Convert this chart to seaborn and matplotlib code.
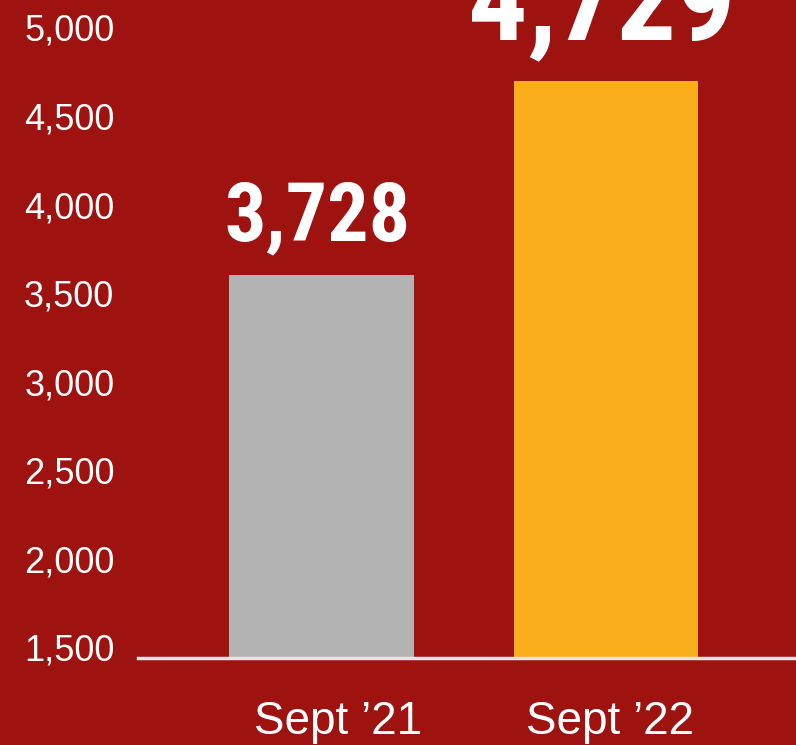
import matplotlib
matplotlib.use("Agg")
import matplotlib.pyplot as plt
import matplotlib.transforms as mtransforms
import seaborn as sns
import pandas as pd

# data
months = ["Sept \u201921", "Sept \u201922"]
bar_heights = [3600, 4700]
value_labels = ["3,728", "4,729"]
y_ticks = [1500, 2000, 2500, 3000, 3500, 4000, 4500, 5000]

bg = "#9E1210"
bar_colors = ["#B3B3B3", "#FBAE1B"]

sns.set_theme(style="white")
plt.rcParams["font.family"] = ["Liberation Sans", "DejaVu Sans"]

df = pd.DataFrame({"month": months, "value": bar_heights})

fig = plt.figure(figsize=(7.96, 7.45), dpi=100)
fig.patch.set_facecolor(bg)
ax = fig.add_axes([138 / 796, 87 / 745, 1 - 138 / 796, 658 / 745])
ax.set_facecolor(bg)

sns.barplot(
    data=df,
    x="month",
    y="value",
    hue="month",
    palette=bar_colors,
    saturation=1,
    width=0.65,
    linewidth=0,
    legend=False,
    ax=ax
)

ax.set_ylim(1440, 5155)
ax.set_xlim(-0.645, 1.668)
ax.set_yticks(y_ticks)
ax.set_yticklabels([f"{t:,}" for t in y_ticks])

for side in ["top", "right", "left"]:
    ax.spines[side].set_visible(False)
ax.spines["bottom"].set_color("#E4E4E4")
ax.spines["bottom"].set_linewidth(2.5)
ax.spines["bottom"].set_zorder(5)

ax.tick_params(axis="y", colors="white", labelsize=26, length=0, pad=17)
ax.tick_params(axis="x", colors="white", labelsize=33, length=0, pad=30)
ax.set_xlabel("")
ax.set_ylabel("")

# month labels sit a little right of the bar centres in the original
for lab, dx in zip(ax.get_xticklabels(), [0.17, 0.04]):
    lab.set_transform(lab.get_transform() + mtransforms.ScaledTranslation(dx, 0, fig.dpi_scale_trans))

# big condensed bold value labels
sizes = [59, 85]
offsets = [25, 29]
for i, (h, lab) in enumerate(zip(bar_heights, value_labels)):
    ax.annotate(
        lab,
        xy=(i, h),
        xytext=(-3, offsets[i]),
        textcoords="offset points",
        ha="center",
        va="baseline",
        color="white",
        fontsize=sizes[i],
        fontweight="bold",
        family=["Roboto Condensed", "Archivo Narrow", "PT Sans Narrow", "DejaVu Sans"],
        annotation_clip=False
    )

fig.savefig("out.png", dpi=100, facecolor=bg)
